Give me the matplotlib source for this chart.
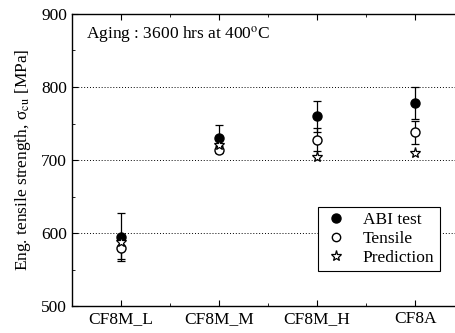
import matplotlib
matplotlib.use("Agg")
import matplotlib.pyplot as plt
import numpy as np
from matplotlib.ticker import MultipleLocator
from matplotlib.lines import Line2D

plt.rcParams['font.family'] = ['Liberation Serif', 'DejaVu Serif']
plt.rcParams['mathtext.fontset'] = 'stix'

# data
alloys = ["CF8M_L", "CF8M_M", "CF8M_H", "CF8A"]
abi = [595, 730, 760, 778]
abi_err = [33, 18, 21, 22]
tensile = [580, 714, 728, 738]
tensile_err = [15, 5, 16, 16]
prediction = [588, 720, 704, 709]

x = np.arange(len(alloys))
fs = 12.5

fig = plt.figure(figsize=(4.55, 3.33), dpi=100)
ax = fig.add_axes([0.158, 0.081, 0.862, 0.877])

ax.errorbar(x, abi, yerr=abi_err, fmt='o', color='black', mfc='black',
            ms=6.5, capsize=3, elinewidth=0.9, capthick=0.9, zorder=3)
ax.errorbar(x, tensile, yerr=tensile_err, fmt='o', color='black', mfc='white',
            ms=6.5, capsize=3, elinewidth=0.9, capthick=0.9, zorder=4)
ax.plot(x, prediction, linestyle='none', marker='*', color='black', mfc='white',
        ms=8, mew=0.9, zorder=5)

for yv in [600, 700, 800]:
    ax.axhline(yv, color='black', linestyle=(0, (1, 2)), linewidth=0.7, zorder=1)

ax.set_xlim(-0.5, 3.5)
ax.set_ylim(500, 900)
ax.set_xticks(x)
ax.set_xticklabels(alloys, fontsize=fs)
ax.xaxis.set_minor_locator(MultipleLocator(0.5))
ax.yaxis.set_major_locator(MultipleLocator(100))
ax.yaxis.set_minor_locator(MultipleLocator(50))
ax.tick_params(which='both', direction='in', top=True, right=True, labelsize=fs)
ax.tick_params(which='major', length=4)
ax.tick_params(which='minor', length=2.5)
for s in ax.spines.values():
    s.set_linewidth(1.0)

ax.set_ylabel("Eng. tensile strength, σ$_{\\rm cu}$ [MPa]", fontsize=fs, labelpad=6)
ax.text(0.035, 0.93, r"Aging : 3600 hrs at 400$^{\rm o}$C", transform=ax.transAxes,
        fontsize=fs, va='center', ha='left')

handles = [
    Line2D([], [], linestyle='none', marker='o', color='black', mfc='black', ms=6.5),
    Line2D([], [], linestyle='none', marker='o', color='black', mfc='white', ms=6),
    Line2D([], [], linestyle='none', marker='*', color='black', mfc='white', ms=8, mew=0.9),
]
leg = ax.legend(handles, ["ABI test", "Tensile", "Prediction"], loc='lower right',
                bbox_to_anchor=(0.96, 0.09), fontsize=fs, fancybox=False,
                edgecolor='black', framealpha=1, handletextpad=0.8,
                borderpad=0.3, labelspacing=0.15, handlelength=1.5)
leg.get_frame().set_linewidth(0.8)

fig.savefig("out.png", dpi=100)
